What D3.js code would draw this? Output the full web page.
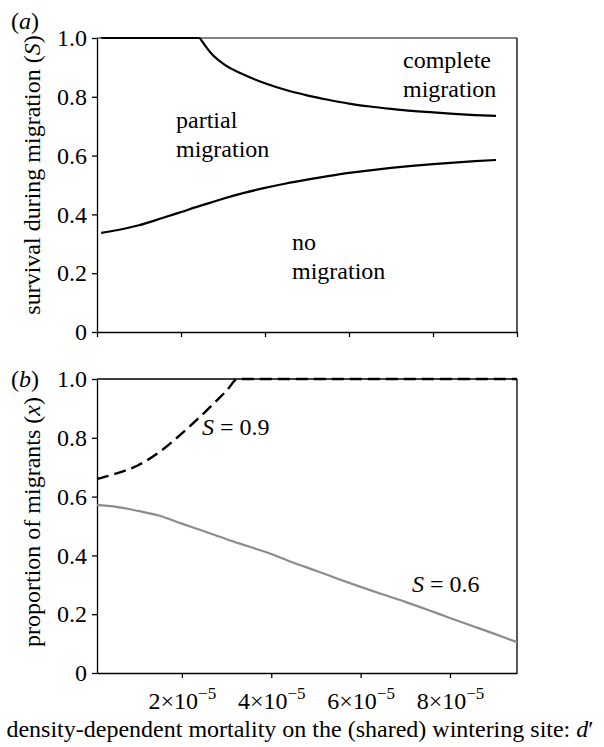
<!DOCTYPE html>
<html>
<head>
<meta charset="utf-8">
<script src="https://cdn.jsdelivr.net/npm/d3@7"></script>
</head>
<body style="margin:0">
<script>
// d' values are in units of 1e-5
// panel (a): boundaries between migration regimes
var dA = [0.1, 0.5, 1, 1.5, 2, 2.45, 2.75, 3, 3.5, 4, 4.5, 5, 5.5, 6, 6.5, 7, 7.5, 8, 8.5, 9, 9.5];
var completeBound = [1, 1, 1, 1, 1, 1, 0.943, 0.913, 0.875, 0.846, 0.823, 0.805, 0.79, 0.777, 0.767, 0.759, 0.752, 0.747, 0.742, 0.738, 0.735];
var noneBound = [0.337, 0.347, 0.363, 0.385, 0.408, 0.429, 0.442, 0.453, 0.473, 0.49, 0.505, 0.518, 0.53, 0.541, 0.55, 0.558, 0.565, 0.571, 0.576, 0.581, 0.585];

// panel (b): proportion of migrants
var dB9 = [0.1, 0.5, 1, 1.5, 2, 2.5, 2.8, 3, 3.25, 3.5, 4, 5, 6, 7, 8, 9, 9.5];
var s09 = [0.66, 0.677, 0.705, 0.752, 0.815, 0.885, 0.93, 0.96, 1, 1, 1, 1, 1, 1, 1, 1, 1];
var dB6 = [0.1, 0.5, 1, 1.5, 2, 2.5, 3, 3.5, 4, 4.5, 5, 5.5, 6, 6.5, 7, 7.5, 8, 8.5, 9, 9.5];
var s06 = [0.571, 0.566, 0.552, 0.535, 0.508, 0.482, 0.455, 0.43, 0.405, 0.375, 0.348, 0.32, 0.293, 0.267, 0.242, 0.215, 0.187, 0.16, 0.133, 0.105];

var yTicks = [0, 0.2, 0.4, 0.6, 0.8, 1.0];
var xTicksA = [0, 2, 4, 6, 8, 10];
var xTicksB = [2, 4, 6, 8];

var FONT = "'Liberation Serif'";
var W = 604, H = 747;
var left = 97, pw = 420, ph = 294;
var topA = 38, topB = 379;

var svg = d3.select("body").append("svg")
  .attr("width", W).attr("height", H);

var y = d3.scaleLinear().domain([0, 1]).range([ph, 0]);
var xA = d3.scaleLinear().domain([0, 10]).range([0, pw]);
var xB = d3.scaleLinear().domain([0.1, 9.5]).range([0, pw]);

function txt(sel, size) {
  return sel.attr("font-size", size).style("font-family", FONT).attr("fill", "#000");
}

function drawPanel(top, x, xTicks, topColor) {
  var g = svg.append("g").attr("transform", "translate(" + left + "," + top + ")");

  // frame: top and right
  g.append("line").attr("x1", 0).attr("x2", pw).attr("y1", 0).attr("y2", 0)
    .attr("stroke", topColor).attr("stroke-width", 1.3);
  g.append("line").attr("x1", pw).attr("x2", pw).attr("y1", 0).attr("y2", ph)
    .attr("stroke", "#000").attr("stroke-width", 1.3);

  var ya = g.append("g")
    .call(d3.axisLeft(y).tickValues(yTicks).tickSize(5).tickSizeOuter(0).tickPadding(5)
      .tickFormat(function(d) { return d === 0 ? "0" : d.toFixed(1); }));
  ya.attr("font-family", null).attr("font-size", null);
  txt(ya.selectAll("text"), 24);

  var xa = g.append("g").attr("transform", "translate(0," + ph + ")")
    .call(d3.axisBottom(x).tickValues(xTicks).tickSize(5).tickSizeOuter(0));
  xa.attr("font-family", null).attr("font-size", null);
  g.selectAll(".domain").attr("stroke", "#000").attr("stroke-width", 1.3);
  g.selectAll(".tick line").attr("stroke", "#000").attr("stroke-width", 1.3);
  return { g: g, xa: xa };
}

// ---- panel (a)
var pa = drawPanel(topA, xA, xTicksA, "#5a5a5a");
pa.xa.selectAll("text").remove();

function pathA(xs, vals, curve) {
  return d3.line()
    .x(function(d, i) { return xA(xs[i]); })
    .y(function(d) { return y(d); })
    .curve(curve)(vals);
}
// flat part at S = 1 then the curved part, so the corner stays sharp
var kink = 5;
pa.g.append("path").attr("d", pathA(dA.slice(0, kink + 1), completeBound.slice(0, kink + 1), d3.curveLinear))
  .attr("fill", "none").attr("stroke", "#000").attr("stroke-width", 2.2);
pa.g.append("path").attr("d", pathA(dA.slice(kink), completeBound.slice(kink), d3.curveMonotoneX))
  .attr("fill", "none").attr("stroke", "#000").attr("stroke-width", 2.2);
pa.g.append("path").attr("d", pathA(dA, noneBound, d3.curveMonotoneX))
  .attr("fill", "none").attr("stroke", "#000").attr("stroke-width", 2.2);

function label2(x, y1, lines) {
  var t = txt(svg.append("text").attr("x", x).attr("y", y1), 24);
  lines.forEach(function(s, i) {
    t.append("tspan").attr("x", x).attr("dy", i === 0 ? 0 : 29).text(s);
  });
}
label2(176, 128, ["partial", "migration"]);
label2(403, 68, ["complete", "migration"]);
label2(292, 250, ["no", "migration"]);

var ta = txt(svg.append("text").attr("x", 11).attr("y", 29), 24);
ta.append("tspan").text("(");
ta.append("tspan").attr("font-style", "italic").text("a");
ta.append("tspan").text(")");

var ylA = txt(svg.append("text").attr("transform", "translate(40,175) rotate(-90)")
  .attr("text-anchor", "middle"), 24);
ylA.append("tspan").text("survival during migration (");
ylA.append("tspan").attr("font-style", "italic").text("S");
ylA.append("tspan").text(")");

// ---- panel (b)
var pb = drawPanel(topB, xB, xTicksB, "#000");
pb.xa.selectAll("text").each(function(d) {
  var t = txt(d3.select(this).text("").attr("dy", null).attr("y", 36), 24);
  t.append("tspan").text(d + "\u00d710");
  t.append("tspan").attr("dy", -10).attr("font-size", 17).text("\u22125");
});

pb.g.append("path")
  .attr("d", d3.line().x(function(d, i) { return xB(dB6[i]); }).y(function(d) { return y(d); })
    .curve(d3.curveMonotoneX)(s06))
  .attr("fill", "none").attr("stroke", "#8c8c8c").attr("stroke-width", 2.2);
pb.g.append("path")
  .attr("d", d3.line().x(function(d, i) { return xB(dB9[i]); }).y(function(d) { return y(d); })
    .curve(d3.curveMonotoneX)(s09))
  .attr("fill", "none").attr("stroke", "#000").attr("stroke-width", 2.4)
  .attr("stroke-dasharray", "12,6");

function sLabel(x, yy, val) {
  var t = txt(svg.append("text").attr("x", x).attr("y", yy), 24);
  t.append("tspan").attr("font-style", "italic").text("S");
  t.append("tspan").text(" = " + val);
}
sLabel(202, 435, "0.9");
sLabel(412, 592, "0.6");

var tb = txt(svg.append("text").attr("x", 11).attr("y", 387), 24);
tb.append("tspan").text("(");
tb.append("tspan").attr("font-style", "italic").text("b");
tb.append("tspan").text(")");

var ylB = txt(svg.append("text").attr("transform", "translate(40,522) rotate(-90)")
  .attr("text-anchor", "middle"), 24);
ylB.append("tspan").text("proportion of migrants (");
ylB.append("tspan").attr("font-style", "italic").text("x");
ylB.append("tspan").text(")");

var xl = txt(svg.append("text").attr("x", 300).attr("y", 737)
  .attr("text-anchor", "middle"), 24);
xl.append("tspan").text("density-dependent mortality on the (shared) wintering site: ");
xl.append("tspan").attr("font-style", "italic").text("d");
xl.append("tspan").text("\u2032");
</script>
</body>
</html>
